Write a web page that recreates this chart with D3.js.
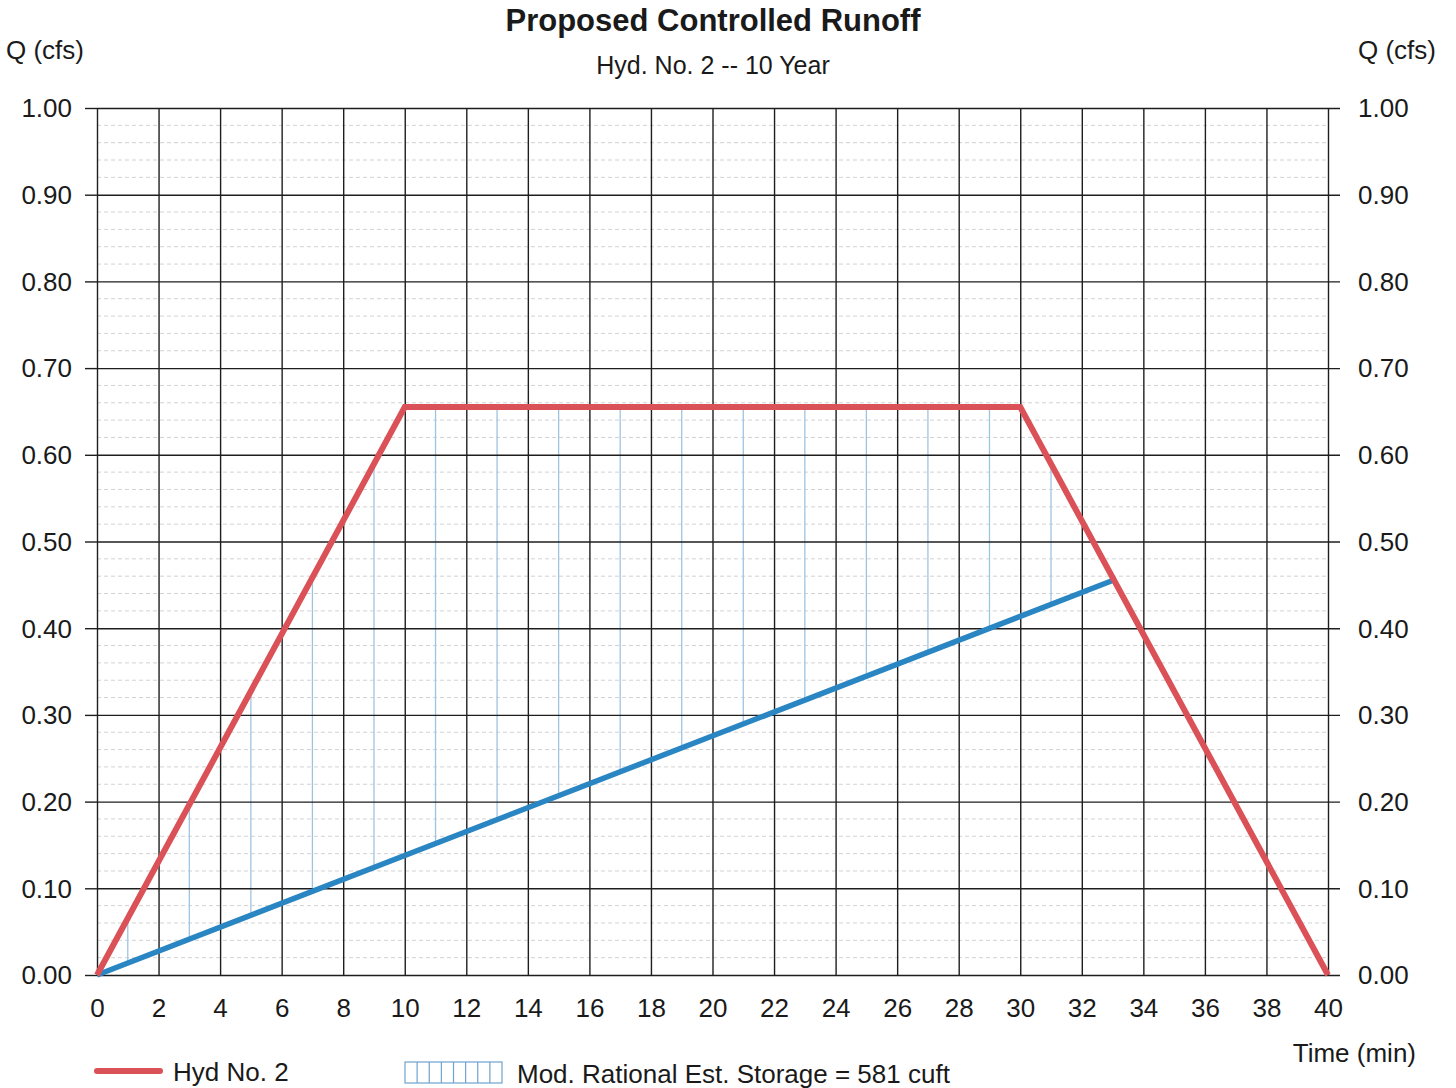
<!DOCTYPE html>
<html>
<head>
<meta charset="utf-8">
<script src="https://cdn.jsdelivr.net/npm/d3@7"></script>
<style>
  body { margin: 0; background: #fff; }
  text { font-family: "Liberation Sans", Arial, sans-serif; fill: #1a1a1a; }
</style>
</head>
<body>
<div id="chart"></div>
<script>
// hydrograph data (time in min, Q in cfs)
const hydTime = [0, 10, 30, 40];
const hydQ = [0, 0.655, 0.655, 0];
const outTime = [0, 33];
const outQ = [0, 0.455];
// times where storage hatching is drawn
const hatchTimes = [1, 3, 5, 7, 9, 11, 13, 15, 17, 19, 21, 23, 25, 27, 29, 31, 33];
const xTicks = d3.range(0, 41, 2);
const yTicks = [0, 0.1, 0.2, 0.3, 0.4, 0.5, 0.6, 0.7, 0.8, 0.9, 1.0];
const yMinor = d3.range(0, 1.0001, 0.02);

const width = 1456, height = 1088;
const margin = { top: 108, right: 128, bottom: 113, left: 97 };
const fs = "26px";

const svg = d3.select("#chart").append("svg")
  .attr("width", width).attr("height", height);

const x = d3.scaleLinear().domain([0, 40]).range([margin.left, width - margin.right]);
const y = d3.scaleLinear().domain([0, 1]).range([height - margin.bottom, margin.top]);

const red = "#da5258", blue = "#2a86c2", hatch = "#9fc4e2";

// minor horizontal grid
svg.append("g").selectAll("line")
  .data(yMinor.filter((d, i) => i % 5 != 0))
  .join("line")
  .attr("x1", x(0)).attr("x2", x(40))
  .attr("y1", d => y(d)).attr("y2", d => y(d))
  .attr("stroke", "#d2d2d2").attr("stroke-width", 1)
  .attr("stroke-dasharray", "4,3");

// hatching between hydrograph and outflow
const hydAt = d3.scaleLinear().domain(hydTime).range(hydQ);
const outAt = d3.scaleLinear().domain(outTime).range(outQ);
svg.append("g").selectAll("line")
  .data(hatchTimes)
  .join("line")
  .attr("x1", d => x(d)).attr("x2", d => x(d))
  .attr("y1", d => y(outAt(d))).attr("y2", d => y(hydAt(d)))
  .attr("stroke", hatch).attr("stroke-width", 1.3);

// major grid
svg.append("g")
  .attr("transform", `translate(0,${y(0)})`)
  .call(d3.axisBottom(x).tickValues(xTicks).tickSize(-(y(0) - y(1))).tickFormat(d => d))
  .call(g => g.select(".domain").remove())
  .call(g => g.selectAll(".tick line").attr("stroke", "#1e1e1e").attr("stroke-width", 1.4))
  .call(g => g.selectAll(".tick text").attr("dy", 0).attr("y", 42)
    .style("font-size", fs).style("font-family", "Liberation Sans, Arial, sans-serif"));

svg.append("g")
  .attr("transform", `translate(${x(0)},0)`)
  .call(d3.axisLeft(y).tickValues(yTicks).tickSize(12).tickFormat(d3.format(".2f")))
  .call(g => g.select(".domain").remove())
  .call(g => g.selectAll(".tick line").clone()
    .attr("x2", x(40) - x(0) + 12).attr("x1", 0))
  .call(g => g.selectAll(".tick line").attr("stroke", "#1e1e1e").attr("stroke-width", 1.4))
  .call(g => g.selectAll(".tick text").attr("x", -25).attr("dy", "0.34em")
    .style("font-size", fs).style("font-family", "Liberation Sans, Arial, sans-serif"));

svg.append("g")
  .attr("transform", `translate(${x(40)},0)`)
  .call(d3.axisRight(y).tickValues(yTicks).tickSize(0).tickFormat(d3.format(".2f")))
  .call(g => g.select(".domain").remove())
  .call(g => g.selectAll(".tick text").attr("x", 30).attr("dy", "0.34em")
    .style("font-size", fs).style("font-family", "Liberation Sans, Arial, sans-serif"));

// series
const line = d3.line().x(d => x(d[0])).y(d => y(d[1]));
svg.append("path")
  .datum(outTime.map((t, i) => [t, outQ[i]]))
  .attr("d", line).attr("fill", "none")
  .attr("stroke", blue).attr("stroke-width", 5.5);
svg.append("path")
  .datum(hydTime.map((t, i) => [t, hydQ[i]]))
  .attr("d", line).attr("fill", "none")
  .attr("stroke", red).attr("stroke-width", 6);

// titles
svg.append("text").attr("x", 713).attr("y", 31)
  .attr("text-anchor", "middle").style("font-size", "31px").style("font-weight", "bold")
  .text("Proposed Controlled Runoff");
svg.append("text").attr("x", 713).attr("y", 74)
  .attr("text-anchor", "middle").style("font-size", "25px")
  .text("Hyd. No. 2 -- 10 Year");
svg.append("text").attr("x", 6).attr("y", 59).style("font-size", fs).text("Q (cfs)");
svg.append("text").attr("x", 1358).attr("y", 59).style("font-size", fs).text("Q (cfs)");
svg.append("text").attr("x", 1416).attr("y", 1062).attr("text-anchor", "end")
  .style("font-size", fs).text("Time (min)");

// legend
svg.append("line").attr("x1", 97).attr("x2", 160).attr("y1", 1071).attr("y2", 1071)
  .attr("stroke", red).attr("stroke-width", 6).attr("stroke-linecap", "round");
svg.append("text").attr("x", 173).attr("y", 1081).style("font-size", fs).text("Hyd No. 2");

const lg = svg.append("g").attr("transform", "translate(405,1062)");
lg.append("rect").attr("width", 97).attr("height", 21)
  .attr("fill", "none").attr("stroke", "#6fa3cf").attr("stroke-width", 1.2);
lg.selectAll("line.h").data(d3.range(1, 8)).join("line")
  .attr("x1", d => d * 97 / 8).attr("x2", d => d * 97 / 8)
  .attr("y1", 0).attr("y2", 21)
  .attr("stroke", "#6fa3cf").attr("stroke-width", 1.2);
svg.append("text").attr("x", 517).attr("y", 1083).style("font-size", fs)
  .text("Mod. Rational Est. Storage = 581 cuft");
</script>
</body>
</html>
